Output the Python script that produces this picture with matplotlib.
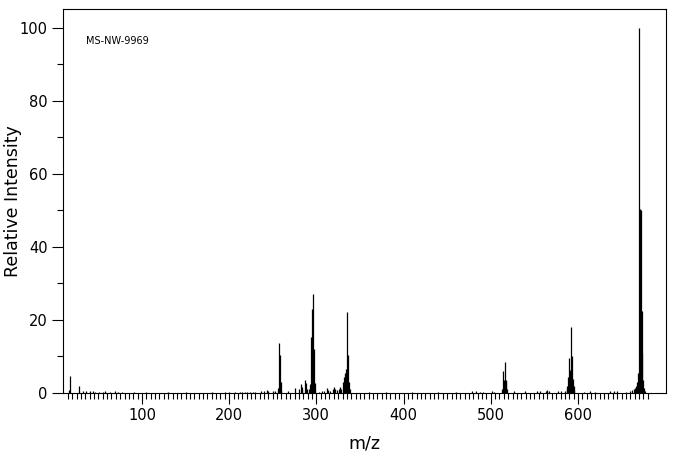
import numpy as np
import matplotlib
matplotlib.use("Agg")
import matplotlib.pyplot as plt
from matplotlib.ticker import MultipleLocator, FixedLocator

# m/z values and relative intensities
mz = [16, 18, 28, 32, 36, 40, 44, 46, 51, 55, 57, 63, 69, 73, 77, 91, 105,
      130, 150, 180, 195, 200, 207, 212, 215, 218, 221, 224, 227, 230,
      237, 240, 243, 245, 250, 253, 256,
      257, 258, 259, 260,
      268, 275, 280, 282, 283, 284, 287, 288, 289, 291, 293,
      294, 295, 296, 297, 298, 299,
      303, 306, 309, 312, 313, 316, 319, 320, 321, 324, 326, 327, 328,
      331, 332, 333, 334, 335, 336, 337, 338,
      360, 380, 410, 440, 460, 478, 483, 488, 491, 502, 504,
      513, 514, 515, 516, 517, 518, 519,
      527, 539, 553, 556, 563, 565, 567, 577, 580, 585,
      587, 588, 589, 590, 591, 592, 593, 594, 595, 596,
      607, 614, 619, 637, 641, 645, 655, 660, 662,
      664, 665, 666, 667, 668, 669, 670, 671, 672, 673, 674, 675, 676, 677]
intensity = [0.9, 4.7, 1.9, 0.6, 0.5, 0.5, 0.6, 0.4, 0.3, 0.4, 0.5, 0.3, 0.5, 0.3, 0.3, 0.3, 0.2,
             0.2, 0.2, 0.2, 0.3, 0.3, 0.3, 0.4, 0.4, 0.4, 0.4, 0.4, 0.4, 0.3,
             0.5, 0.6, 0.8, 0.5, 0.5, 0.6, 1.5,
             13.8, 10.4, 3.0, 0.8,
             0.6, 1.4, 1.0, 2.5, 1.7, 0.8, 3.5, 2.8, 1.2, 1.0, 2.5,
             15.4, 23.0, 27.1, 12.0, 2.8, 0.8,
             0.4, 0.5, 0.6, 1.4, 0.8, 0.6, 1.0, 1.6, 1.2, 0.8, 1.2, 1.6, 1.0,
             3.0, 4.5, 5.5, 6.5, 22.3, 10.5, 3.0, 1.0,
             0.3, 0.3, 0.3, 0.3, 0.3, 0.5, 0.5, 0.4, 0.4, 0.5, 0.4,
             1.0, 6.1, 3.5, 8.5, 3.5, 3.3, 1.0,
             0.5, 0.5, 0.5, 0.5, 0.6, 0.8, 0.5, 0.5, 0.5, 0.5,
             1.0, 2.0, 4.5, 9.5, 6.3, 18.2, 10.0, 3.8, 1.9, 0.8,
             0.4, 0.5, 0.4, 0.5, 0.5, 0.5, 0.4, 0.6, 0.8,
             1.0, 1.2, 1.5, 2.0, 3.0, 5.5, 100.0, 50.5, 50.0, 22.5, 11.0, 3.5, 1.5, 0.6]

y_major = [0, 20, 40, 60, 80, 100]
x_major = [100, 200, 300, 400, 500, 600]
x_minor = list(range(15, 685, 5))

fig = plt.figure(figsize=(6.76, 4.55), dpi=100)
ax = fig.add_axes([63 / 676, 62 / 455, 603 / 676, 384 / 455])

ax.vlines(mz, 0, intensity, colors="black", linewidth=0.9)

ax.set_xlim(9.4, 701)
ax.set_ylim(0, 105.2)

ax.set_yticks(y_major)
ax.yaxis.set_minor_locator(MultipleLocator(10))
ax.set_xticks(x_major)
ax.xaxis.set_minor_locator(FixedLocator(x_minor))

ax.tick_params(axis="both", which="major", direction="out", length=8, width=0.8,
               labelsize=10.5, pad=3, color="black")
ax.tick_params(axis="both", which="minor", direction="out", length=4.5, width=0.8,
               color="black")

for s in ax.spines.values():
    s.set_linewidth(0.8)
    s.set_color("black")

ax.set_xlabel("m/z", fontsize=12.5, labelpad=8)
ax.set_ylabel("Relative Intensity", fontsize=12.5, va="center")
ax.yaxis.set_label_coords(-0.083, 0.5)

ax.text(0.038, 0.917, "MS-NW-9969", transform=ax.transAxes, fontsize=7,
        ha="left", va="center")

fig.savefig("out.png", dpi=100)
